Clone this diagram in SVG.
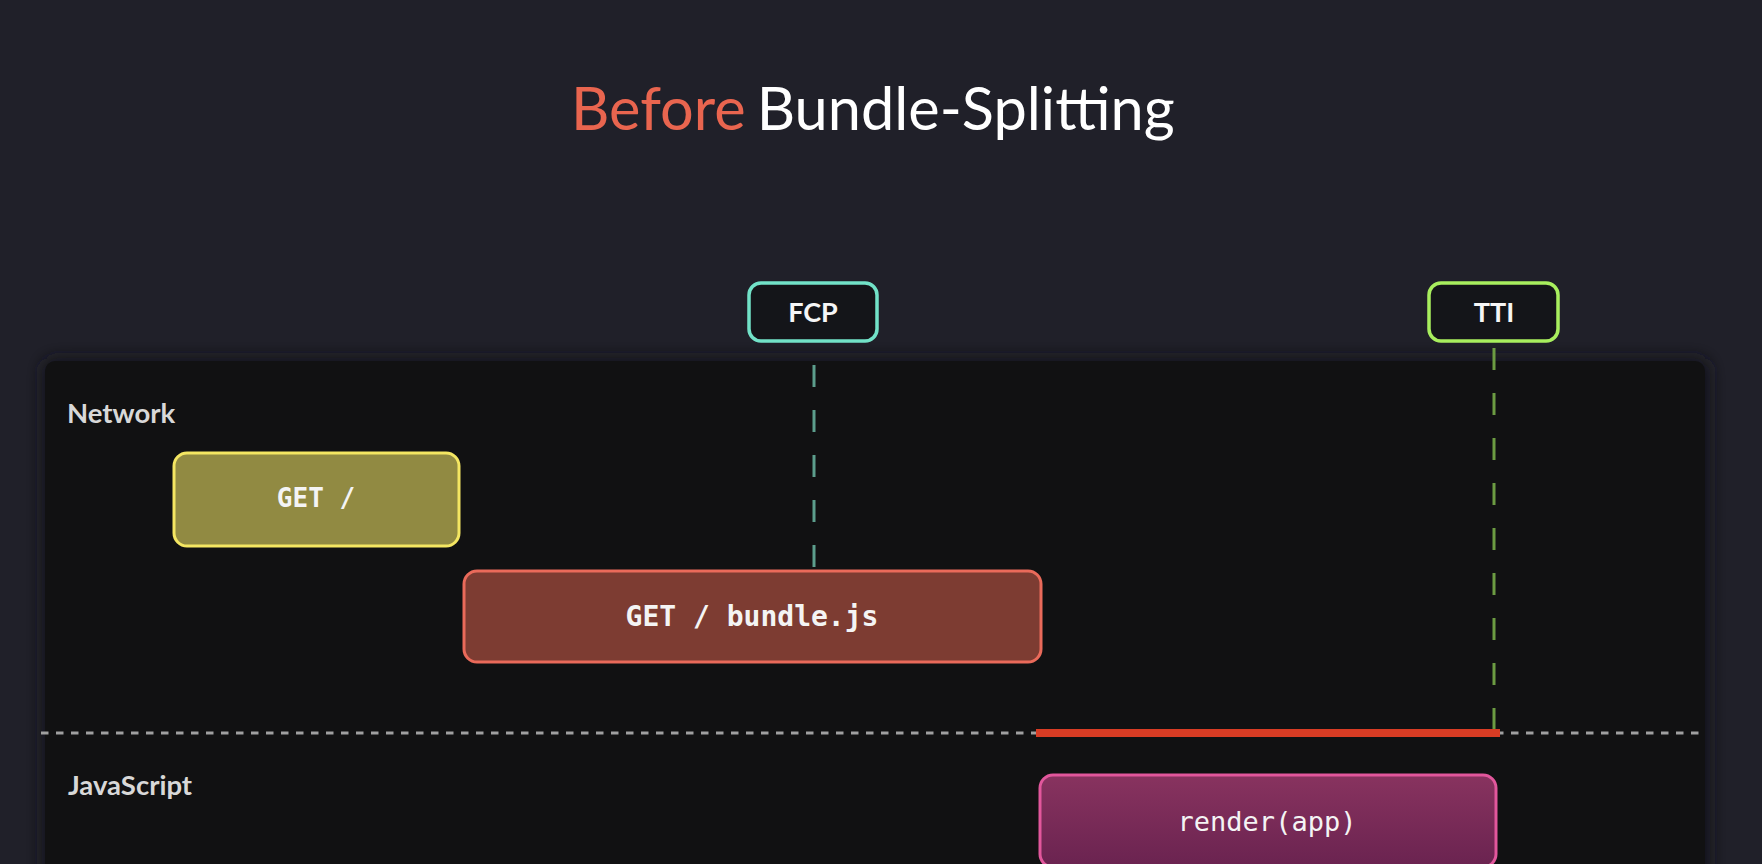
<svg xmlns="http://www.w3.org/2000/svg" width="1762" height="864" viewBox="0 0 1762 864">
<defs>
<style>
.lbl{font-family:Lato,"Noto Sans",sans-serif;font-weight:700;fill:#d8d8d8;font-size:27.5px}
.mark{fill:#141519;stroke-width:3.5}
.marktxt{font-family:Lato,"Noto Sans",sans-serif;font-weight:700;fill:#f6f6f6;font-size:27px;text-anchor:middle}
.code{font-family:"DejaVu Sans Mono","Liberation Mono",monospace;fill:#f4f4f4;text-anchor:middle}
.vdash{stroke-width:3;stroke-dasharray:22 23;fill:none}
</style>
<linearGradient id="rg" x1="0" y1="0" x2="0" y2="1">
<stop offset="0" stop-color="#88335f"/>
<stop offset="1" stop-color="#6a2350"/>
</linearGradient>
<filter id="sh" x="-5%" y="-10%" width="110%" height="120%">
<feGaussianBlur stdDeviation="8"/>
</filter>
</defs>
<rect width="1762" height="864" fill="#202029"/>
<text x="571" y="130" font-family="Lato,'Noto Sans',sans-serif" font-size="59.5" fill="#e9654f"><tspan>Before</tspan><tspan fill="#ffffff" dx="12">Bundle-Splitting</tspan></text>
<g id="panel">
<rect x="42" y="358" width="1668" height="530" rx="14" fill="#18191d" filter="url(#sh)"/>
<rect x="45" y="361" width="1660" height="520" rx="10" fill="#111112"/>
<text class="lbl" x="67" y="423">Network</text>
<text class="lbl" x="68" y="795">JavaScript</text>
</g>
<g id="connectors">
<line x1="41" y1="733" x2="1706" y2="733" stroke="#a0a0a0" stroke-width="3" stroke-dasharray="7.5 7.5"/>
<line class="vdash" x1="814" y1="365" x2="814" y2="570" stroke="#5c9e8c"/>
<line class="vdash" x1="1494" y1="348" x2="1494" y2="730" stroke="#6c9c42"/>
<rect x="1036" y="729" width="464" height="8" fill="#d83c24"/>
</g>
<g id="fcp">
<rect class="mark" x="749" y="283" width="128" height="58" rx="12" stroke="#72e2c8"/>
<text class="marktxt" x="813" y="322">FCP</text>
</g>
<g id="tti">
<rect class="mark" x="1429" y="283" width="129" height="58" rx="12" stroke="#a8ee5e"/>
<text class="marktxt" x="1494" y="322">TTI</text>
</g>
<g id="get-root">
<rect x="174" y="453" width="285" height="93" rx="13" fill="#918a42" stroke="#f4e662" stroke-width="3"/>
<text class="code" x="316" y="507" font-size="26" style="font-weight:600">GET /</text>
</g>
<g id="get-bundle">
<rect x="464" y="571" width="577" height="91" rx="13" fill="#7d3c32" stroke="#ea6a5a" stroke-width="3"/>
<text class="code" x="752" y="626" font-size="28" style="font-weight:600">GET / bundle.js</text>
</g>
<g id="render-app">
<rect x="1040" y="775" width="456" height="92" rx="13" fill="url(#rg)" stroke="#e2579c" stroke-width="3"/>
<text class="code" x="1267" y="831" font-size="27" fill="#e6e6e6">render(app)</text>
</g>
</svg>
